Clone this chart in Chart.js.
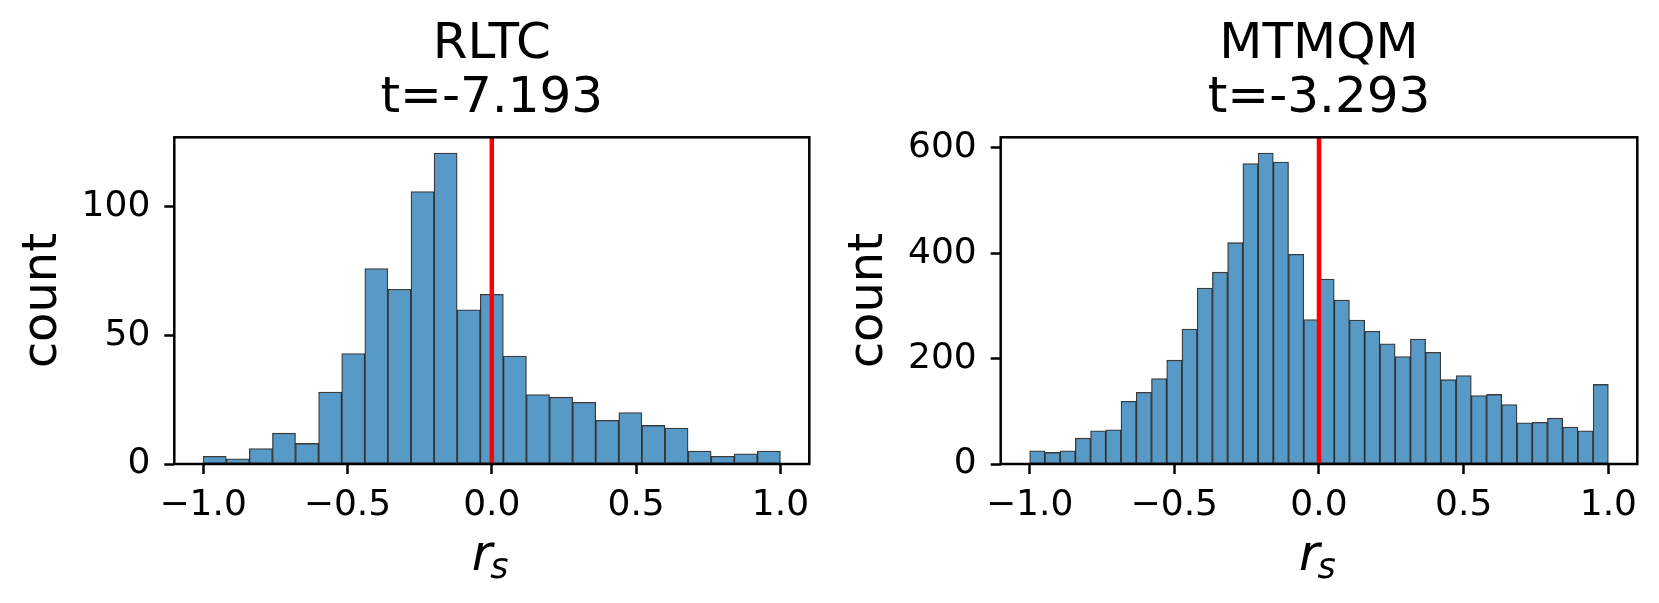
<!DOCTYPE html>
<html>
<head>
<meta charset="utf-8">
<script src="https://cdn.jsdelivr.net/npm/chart.js@4"></script>
<style>
  body { margin: 0; background: #fff; }
  #wrap { position: relative; width: 1659px; height: 603px; }
  .panel { position: absolute; top: 0; height: 603px; }
</style>
</head>
<body>
<div id="wrap">
  <div class="panel" style="left:0;width:830px"><canvas id="rltc"></canvas></div>
  <div class="panel" style="left:830px;width:829px"><canvas id="mtmqm"></canvas></div>
</div>
<script>
// histogram counts (bins span -1..1)
const rltcCounts = [3, 2, 6, 12, 8, 28, 43, 76, 68, 106, 121, 60, 66, 42, 27, 26, 24, 17, 20, 15, 14, 5, 3, 4, 5];
const mtmqmCounts = [25, 22, 25, 49, 63, 65, 119, 136, 162, 197, 256, 334, 364, 420, 570, 590, 573, 398, 274, 351,
                     311, 273, 252, 228, 204, 237, 212, 160, 168, 130, 132, 113, 78, 79, 87, 70, 63, 151];
const binRange = [-1, 1];
const xTickVals = [-1, -0.5, 0, 0.5, 1];
const rltcYTicks = [0, 50, 100];
const mtmqmYTicks = [0, 200, 400, 600];
const titles = { rltc: ['RLTC', 't=-7.193'], mtmqm: ['MTMQM', 't=-3.293'] };
const xLabel = { main: 'r', sub: 's' };
const refLine = 0;

const FONT = 'DejaVu Sans';

// box around the plot area, like matplotlib spines
const frame = {
  id: 'frame',
  afterDatasetsDraw(chart) {
    const a = chart.chartArea, ctx = chart.ctx;
    ctx.save();
    ctx.strokeStyle = '#000';
    ctx.lineWidth = 2.5;
    ctx.strokeRect(a.left, a.top, a.right - a.left, a.bottom - a.top);
    ctx.restore();
  }
};

// x axis label with a subscript (r_s)
const subLabel = {
  id: 'subLabel',
  afterDraw(chart) {
    const a = chart.chartArea, ctx = chart.ctx;
    const cx = (a.left + a.right) / 2;
    ctx.save();
    ctx.fillStyle = '#000';
    ctx.textBaseline = 'alphabetic';
    ctx.textAlign = 'left';
    ctx.font = 'italic 50px "' + FONT + '"';
    ctx.fillText(xLabel.main, cx - 20, a.bottom + 106);
    ctx.font = 'italic 35px "' + FONT + '"';
    ctx.fillText(xLabel.sub, cx - 1.5, a.bottom + 114);
    ctx.restore();
  }
};

function binCenters(n) {
  const w = (binRange[1] - binRange[0]) / n;
  const out = [];
  for (let i = 0; i < n; i++) out.push(binRange[0] + (i + 0.5) * w);
  return out;
}

function makeHist(id, title, counts, yMax, yTicks, pad, yWidth) {
  const centers = binCenters(counts.length);
  const tickGrid = {
    display: true, drawOnChartArea: false, drawTicks: true,
    tickLength: 10, tickWidth: 2.5, tickColor: '#000', color: '#000', offset: false
  };
  return new Chart(document.getElementById(id), {
    type: 'bar',
    data: {
      datasets: [
        {
          type: 'line',
          data: [{ x: refLine, y: 0 }, { x: refLine, y: yMax }],
          borderColor: '#ff0000',
          borderWidth: 4.5,
          pointRadius: 0,
          order: 0
        },
        {
          type: 'bar',
          data: centers.map((c, i) => ({ x: c, y: counts[i] })),
          backgroundColor: '#5799c7',
          borderColor: 'rgba(25,25,25,0.85)',
          borderWidth: 1.3,
          borderSkipped: false,
          barPercentage: 1,
          categoryPercentage: 1,
          order: 1
        }
      ]
    },
    options: {
      responsive: true,
      maintainAspectRatio: false,
      animation: false,
      layout: { padding: pad },
      plugins: {
        legend: { display: false },
        tooltip: { enabled: false },
        title: {
          display: true,
          text: title,
          color: '#000',
          fullSize: false,
          font: { family: FONT, size: 50, weight: 'normal', lineHeight: 1.08 },
          padding: { top: 18.3, bottom: 11 }
        }
      },
      scales: {
        x: {
          type: 'linear',
          min: -1.1,
          max: 1.1,
          offset: false,
          afterBuildTicks: s => { s.ticks = xTickVals.map(v => ({ value: v })); },
          afterFit: s => { s.height = 139; },
          ticks: {
            color: '#000', padding: 10, maxRotation: 0, autoSkip: false,
            font: { family: FONT, size: 36 },
            callback: v => (v < 0 ? '\u2212' : '') + Math.abs(v).toFixed(1)
          },
          grid: tickGrid,
          border: { display: false }
        },
        y: {
          min: 0,
          max: yMax,
          afterBuildTicks: s => { s.ticks = yTicks.map(v => ({ value: v })); },
          afterFit: s => { s.width = yWidth; },
          ticks: {
            color: '#000', padding: 14,
            font: { family: FONT, size: 36 }
          },
          grid: tickGrid,
          border: { display: false },
          title: {
            display: true, text: 'count', color: '#000',
            font: { family: FONT, size: 48, lineHeight: 1 },
            padding: { top: 0, bottom: 0 }
          }
        }
      }
    },
    plugins: [frame, subLabel]
  });
}

const rltcChart = makeHist('rltc', titles.rltc, rltcCounts, 127.1, rltcYTicks,
  { left: 19.4, right: 20.7, top: 0, bottom: 0 }, 154.9);
const mtmqmChart = makeHist('mtmqm', titles.mtmqm, mtmqmCounts, 620, mtmqmYTicks,
  { left: 15.6, right: 21.7, top: 0, bottom: 0 }, 155.1);
</script>
</body>
</html>
